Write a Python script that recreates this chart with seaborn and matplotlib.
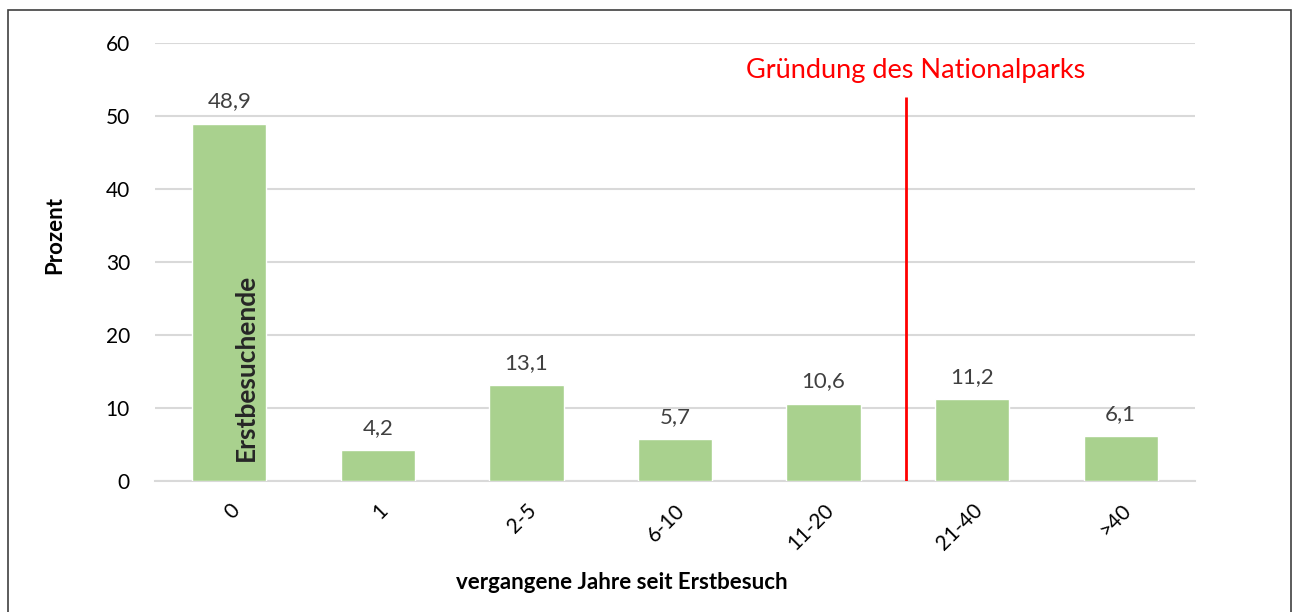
import matplotlib
matplotlib.use("Agg")
import matplotlib.pyplot as plt
from matplotlib.patches import Rectangle
import seaborn as sns
import pandas as pd

categories = ["0", "1", "2-5", "6-10", "11-20", "21-40", ">40"]
values = [48.9, 4.2, 13.1, 5.7, 10.6, 11.2, 6.1]
value_labels = ["48,9", "4,2", "13,1", "5,7", "10,6", "11,2", "6,1"]
yticks = [0, 10, 20, 30, 40, 50, 60]

df = pd.DataFrame({"Jahre": categories, "Prozent": values})

sns.set_theme(style="white")
plt.rcParams["font.family"] = ["Lato", "DejaVu Sans"]

fig = plt.figure(figsize=(12.95, 6.12), dpi=100)
ax = fig.add_axes([155 / 1295, 1 - 481 / 612, 1040 / 1295, 438 / 612])

sns.barplot(data=df, x="Jahre", y="Prozent", color="#A9D18E", saturation=1,
            width=0.5, ax=ax, zorder=3)

ax.set_ylim(0, 60)
ax.set_xlim(-0.5, len(categories) - 0.5)
ax.set_yticks(yticks)
ax.set_yticklabels([str(t) for t in yticks], fontsize=15, color="#000000")
ax.yaxis.grid(True, color="#D9D9D9", linewidth=1.5, zorder=0)
ax.set_axisbelow(True)
for s in ["top", "right", "left"]:
    ax.spines[s].set_visible(False)
ax.spines["bottom"].set_color("#D9D9D9")
ax.spines["bottom"].set_linewidth(1.5)
ax.tick_params(axis="both", length=0)
ax.tick_params(axis="y", pad=18)

ax.set_xticks(range(len(categories)))
ax.set_xticklabels(categories, rotation=45, fontsize=15, color="#000000",
                   ha="right", va="top", rotation_mode="anchor")
ax.tick_params(axis="x", pad=14)

ax.set_xlabel("vergangene Jahre seit Erstbesuch", fontsize=16, fontweight="bold",
              color="#000000")
ax.xaxis.set_label_coords(0.449, -0.207)
ax.set_ylabel("Prozent", fontsize=16, fontweight="bold", color="#000000")
ax.yaxis.set_label_coords(-0.086, 0.562)

for i, (v, lab) in enumerate(zip(values, value_labels)):
    ax.annotate(lab, (i, v), xytext=(0, 9), textcoords="offset points",
                ha="center", va="bottom", fontsize=16, color="#404040")

ax.text(0.11, 15.5, "Erstbesuchende", rotation=90, ha="center", va="center",
        fontsize=19, fontweight="bold", color="#262626", zorder=4)

# Founding of the national park
ax.plot([4.555, 4.555], [0, 52.6], color="#FF0000", linewidth=2, zorder=4,
        solid_capstyle="butt")
ax.text(4.62, 56.2, "Gründung des Nationalparks", ha="center", va="center",
        fontsize=19.5, color="#FF0000")

fig.patches.append(Rectangle((8 / 1295, -0.05), 1283 / 1295, 1.05 - 10 / 612,
                             transform=fig.transFigure, fill=False,
                             edgecolor="#404040", linewidth=1.2))

fig.savefig("out.png", dpi=100, facecolor="white")
